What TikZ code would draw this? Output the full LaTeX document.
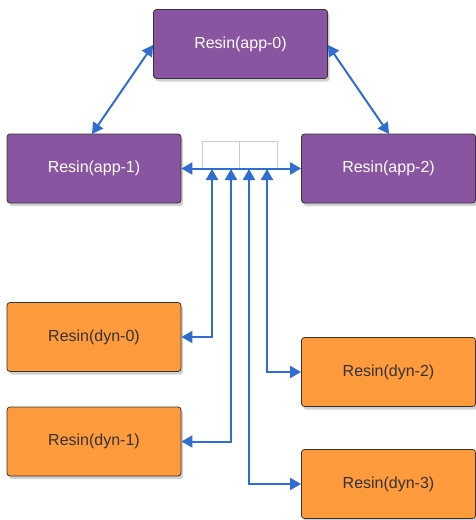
\documentclass[tikz,border=0pt]{standalone}
\usepackage{fontspec}
\setmainfont{Liberation Sans}
\usetikzlibrary{shadows,arrows.meta}
\definecolor{purp}{HTML}{8A55A0}
\definecolor{orng}{HTML}{FF9B3C}
\definecolor{arrowblue}{HTML}{2F6ED0}
\definecolor{txtdark}{HTML}{333333}
\tikzset{
  box/.style={draw=black!80, line width=0.8pt, rounded corners=3pt, minimum width=174pt, minimum height=69pt, inner sep=0pt, font=\fontsize{16}{19}\selectfont, drop shadow={shadow xshift=2pt, shadow yshift=-3pt, opacity=0.3, fill=black!60}},
  appbox/.style={box, fill=purp, text=white},
  dynbox/.style={box, fill=orng, text=txtdark},
  biconn/.style={draw=arrowblue, line width=2pt, {Triangle[length=11pt,width=12pt]}-{Triangle[length=11pt,width=12pt]}},
  cell/.style={draw=black!20, line width=0.8pt, minimum width=37.5pt, minimum height=28pt, inner sep=0pt}
}
\begin{document}
\begin{tikzpicture}[x=1pt,y=-1pt]
\useasboundingbox (0,0) rectangle (475,520);
\node[appbox] (app0) at (240.5,44) {Resin(app-0)};
\node[appbox] (app1) at (94,168.5) {Resin(app-1)};
\node[appbox] (app2) at (388.5,168.5) {Resin(app-2)};
\node[dynbox] (dyn0) at (94,337) {Resin(dyn-0)};
\node[dynbox] (dyn1) at (94,441.5) {Resin(dyn-1)};
\node[dynbox] (dyn2) at (388.5,372) {Resin(dyn-2)};
\node[dynbox] (dyn3) at (388.5,484) {Resin(dyn-3)};
\node[cell] (c1) at (221,155) {};
\node[cell] (c2) at (258.5,155) {};
\coordinate (h1) at (212,169);
\coordinate (h2) at (231,169);
\coordinate (h3) at (249,169);
\coordinate (h4) at (267,169);
\path[biconn] (app0.west |- 0,45) -- (92,134);
\path[biconn] (app0.east |- 0,45) -- (389,134);
\path[biconn] (app1.east) -- (app2.west);
\path[biconn] (h1) |- (dyn0.east);
\path[biconn] (h2) |- (dyn1.east);
\path[biconn] (h3) |- (dyn3.west);
\path[biconn] (h4) |- (dyn2.west);
\end{tikzpicture}
\end{document}
